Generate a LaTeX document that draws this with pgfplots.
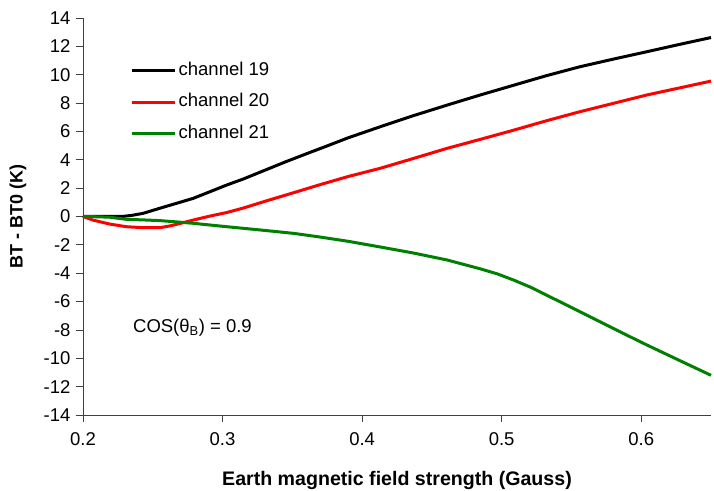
\documentclass[border=0pt]{standalone}
\usepackage{fontspec}
\setmainfont{Liberation Sans}
\usepackage{pgfplots}
\pgfplotsset{compat=1.18}
\begin{document}
\begin{tikzpicture}
\path[use as bounding box] (-83bp,-76bp) rectangle (631bp,415bp);
\begin{axis}[
  scale only axis,
  width=628bp, height=397bp,
  xmin=0.2, xmax=0.65, ymin=-14, ymax=14,
  axis x line*=bottom, axis y line*=left,
  axis line style={line width=0.8bp, draw=black!75},
  tick style={line width=0.8bp, draw=black!75},
  tick align=outside, major tick length=7bp,
  xtick={0.2,0.3,0.4,0.5,0.6},
  ytick={-14,-12,...,14},
  xticklabel style={/pgf/number format/fixed, /pgf/number format/precision=1},
  /pgf/number format/assume math mode=true,
  ticklabel style={font=\fontsize{18.5bp}{22bp}\selectfont},
  xticklabel style={yshift=-7bp},
  yticklabel style={xshift=-2bp},
  xlabel={\textbf{Earth magnetic field strength (Gauss)}},
  ylabel={\textbf{BT - BT0 (K)}},
  xlabel style={font=\fontsize{19.6bp}{23bp}\selectfont, at={(axis description cs:0.5,-0.164)}, anchor=center},
  ylabel style={font=\fontsize{18bp}{21bp}\selectfont, at={(axis description cs:-0.1035,0.5)}, anchor=center},
  legend style={at={(axis description cs:0.0748,0.895)}, anchor=north west, draw=none, fill=none,
    font=\fontsize{18.5bp}{22bp}\selectfont, inner sep=0pt, row sep=10bp,
    nodes={inner sep=2.5bp, text height=13bp, text depth=3.5bp}},
  legend cell align=left,
  legend image code/.code={\draw[#1] (0bp,0bp) -- (43bp,0bp);},
  clip=false,
]
\addplot[black, line width=3bp] coordinates {
(0.200,0.00) (0.215,0.00) (0.228,0.00) (0.235,0.08) (0.243,0.22) (0.255,0.58)
(0.267,0.93) (0.279,1.28) (0.291,1.75) (0.303,2.22) (0.315,2.65) (0.330,3.25)
(0.345,3.85) (0.360,4.42) (0.375,4.98) (0.390,5.55) (0.413,6.33) (0.437,7.12)
(0.461,7.86) (0.485,8.58) (0.509,9.27) (0.532,9.93) (0.556,10.56) (0.580,11.10)
(0.604,11.62) (0.628,12.15) (0.650,12.62)
};
\addlegendentry{channel 19}
\addplot[red, line width=3bp] coordinates {
(0.200,0.00) (0.207,-0.25) (0.219,-0.53) (0.231,-0.72) (0.243,-0.79) (0.255,-0.79)
(0.262,-0.67) (0.270,-0.48) (0.279,-0.25) (0.291,0.03) (0.303,0.28) (0.315,0.60)
(0.332,1.12) (0.351,1.68) (0.370,2.25) (0.390,2.82) (0.413,3.40) (0.437,4.10)
(0.461,4.81) (0.485,5.45) (0.509,6.10) (0.532,6.75) (0.556,7.39) (0.580,7.98)
(0.604,8.57) (0.628,9.08) (0.650,9.55)
};
\addlegendentry{channel 20}
\addplot[color={rgb,255:red,0;green,128;blue,0}, line width=3bp] coordinates {
(0.200,0.00) (0.210,-0.02) (0.219,-0.05) (0.231,-0.20) (0.243,-0.24) (0.255,-0.29)
(0.267,-0.38) (0.279,-0.48) (0.291,-0.60) (0.303,-0.72) (0.327,-0.95) (0.351,-1.19)
(0.370,-1.45) (0.390,-1.75) (0.413,-2.15) (0.437,-2.58) (0.461,-3.07) (0.485,-3.70)
(0.497,-4.05) (0.509,-4.50) (0.521,-5.00) (0.532,-5.54) (0.544,-6.12) (0.556,-6.71)
(0.568,-7.30) (0.580,-7.89) (0.592,-8.48) (0.604,-9.06) (0.616,-9.62) (0.628,-10.18)
(0.650,-11.20)
};
\addlegendentry{channel 21}
\node[anchor=west, inner sep=0pt, font=\fontsize{18.5bp}{22bp}\selectfont] at (axis cs:0.2358,-7.86) {COS(θ\textsubscript{B}) = 0.9};
\end{axis}
\end{tikzpicture}
\end{document}
